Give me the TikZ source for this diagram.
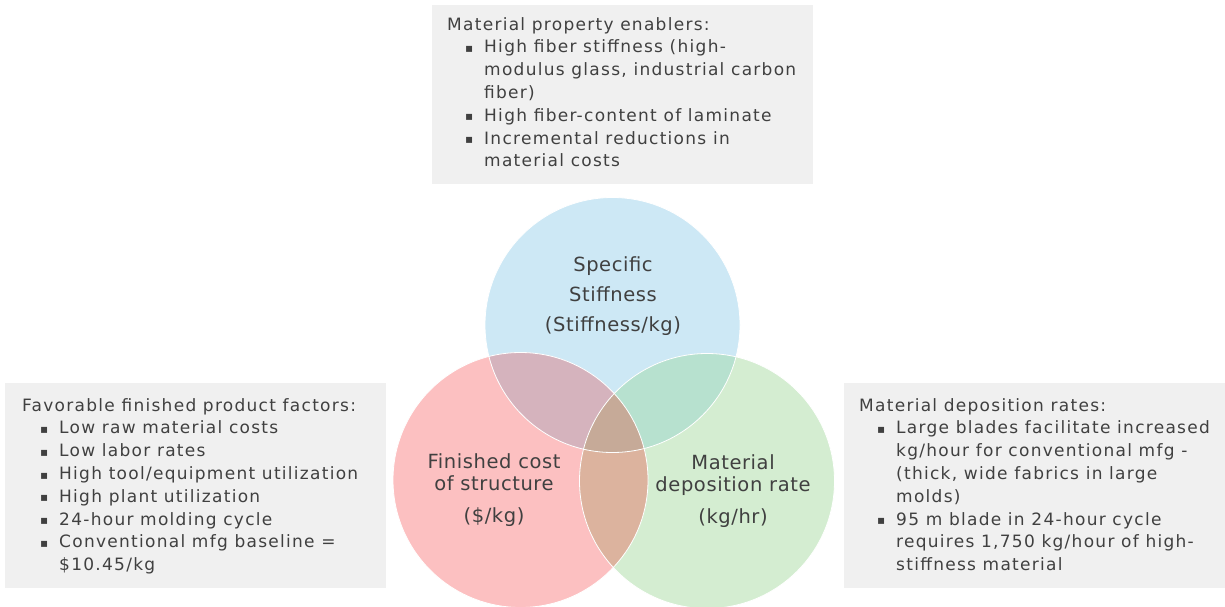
\documentclass[tikz,border=0pt]{standalone}
\usepackage{fontspec}
\setmainfont{DejaVu Sans}
\newfontfamily\boxfont[LetterSpace=7.5]{DejaVu Sans}
\newfontfamily\ringfont[LetterSpace=3]{DejaVu Sans}
\usetikzlibrary{positioning}

\definecolor{boxgray}{HTML}{F0F0F0}
\definecolor{txtgray}{HTML}{404040}
\definecolor{stiffblue}{HTML}{CDE8F5}
\definecolor{costred}{HTML}{FCC0C1}
\definecolor{rategreen}{HTML}{D4EDD1}
\definecolor{redblue}{HTML}{D5B3BD}
\definecolor{bluegreen}{HTML}{B7E1CF}
\definecolor{redgreen}{HTML}{DCB39E}
\definecolor{allthree}{HTML}{C6AA98}

\tikzstyle{factbox} = [fill=boxgray, inner sep=0pt, anchor=north west, minimum width=381pt]
\tikzstyle{facttext} = [text=txtgray, inner sep=0pt, align=left, font=\boxfont\fontsize{17}{22.8}\selectfont]
\tikzstyle{ringtext} = [text=txtgray, inner sep=0pt, align=center]
\tikzstyle{ring} = [draw=white, line width=0.8pt]

\newcommand{\bitem}{\hspace*{18pt}\makebox[19pt][l]{\fontsize{12}{12}\selectfont\raisebox{0.5pt}{▪}}}
\newcommand{\cont}{\hspace*{37pt}}

\begin{document}
\begin{tikzpicture}[x=1pt, y=-1pt]
\useasboundingbox (0,0) rectangle (1225,607);

% the three circles
\coordinate (stiffc) at (612.5,325);
\coordinate (costc) at (520.5,480);
\coordinate (ratec) at (707,481);
\fill[stiffblue] (stiffc) circle[radius=127.5pt];
\fill[costred] (costc) circle[radius=127.5pt];
\fill[rategreen] (ratec) circle[radius=127.5pt];
\begin{scope}
  \clip (costc) circle[radius=127.5pt];
  \fill[redblue] (stiffc) circle[radius=127.5pt];
  \fill[redgreen] (ratec) circle[radius=127.5pt];
\end{scope}
\begin{scope}
  \clip (ratec) circle[radius=127.5pt];
  \fill[bluegreen] (stiffc) circle[radius=127.5pt];
\end{scope}
\begin{scope}
  \clip (costc) circle[radius=127.5pt];
  \clip (ratec) circle[radius=127.5pt];
  \fill[allthree] (stiffc) circle[radius=127.5pt];
\end{scope}
\draw[ring] (stiffc) circle[radius=127.5pt];
\draw[ring] (costc) circle[radius=127.5pt];
\draw[ring] (ratec) circle[radius=127.5pt];

% circle labels
\node[ringtext, font=\ringfont\fontsize{19.5}{30}\selectfont] (stiff) at (613,296)
    {Specific\\Stiffness\\(Stiffness/kg)};
\node[ringtext, font=\ringfont\fontsize{19.5}{22}\selectfont] (cost) at (494,490)
    {Finished cost\\of structure\\[10pt](\$/kg)};
\node[ringtext, font=\ringfont\fontsize{19.5}{22}\selectfont] (rate) at (733,491)
    {Material\\deposition rate\\[10pt](kg/hr)};

% grey boxes
\node[factbox, minimum height=179pt] (propbox) at (432,5) {};
\node[factbox, minimum height=205pt] (costbox) at (5,383) {};
\node[factbox, minimum height=205pt] (ratebox) at (844,383) {};

\node[facttext, below right=12pt and 15pt of propbox.north west] (proplist) {%
Material property enablers:\\
\bitem High fiber stiffness (high-\\
\cont modulus glass, industrial carbon\\
\cont fiber)\\
\bitem High fiber-content of laminate\\
\bitem Incremental reductions in\\
\cont material costs};

\node[facttext, below right=15pt and 17pt of costbox.north west] (costlist) {%
Favorable finished product factors:\\
\bitem Low raw material costs\\
\bitem Low labor rates\\
\bitem High tool/equipment utilization\\
\bitem High plant utilization\\
\bitem 24-hour molding cycle\\
\bitem Conventional mfg baseline =\\
\cont \$10.45/kg};

\node[facttext, below right=15pt and 15pt of ratebox.north west] (ratelist) {%
Material deposition rates:\\
\bitem Large blades facilitate increased\\
\cont kg/hour for conventional mfg -\\
\cont (thick, wide fabrics in large\\
\cont molds)\\
\bitem 95 m blade in 24-hour cycle\\
\cont requires 1,750 kg/hour of high-\\
\cont stiffness material};
\end{tikzpicture}
\end{document}
